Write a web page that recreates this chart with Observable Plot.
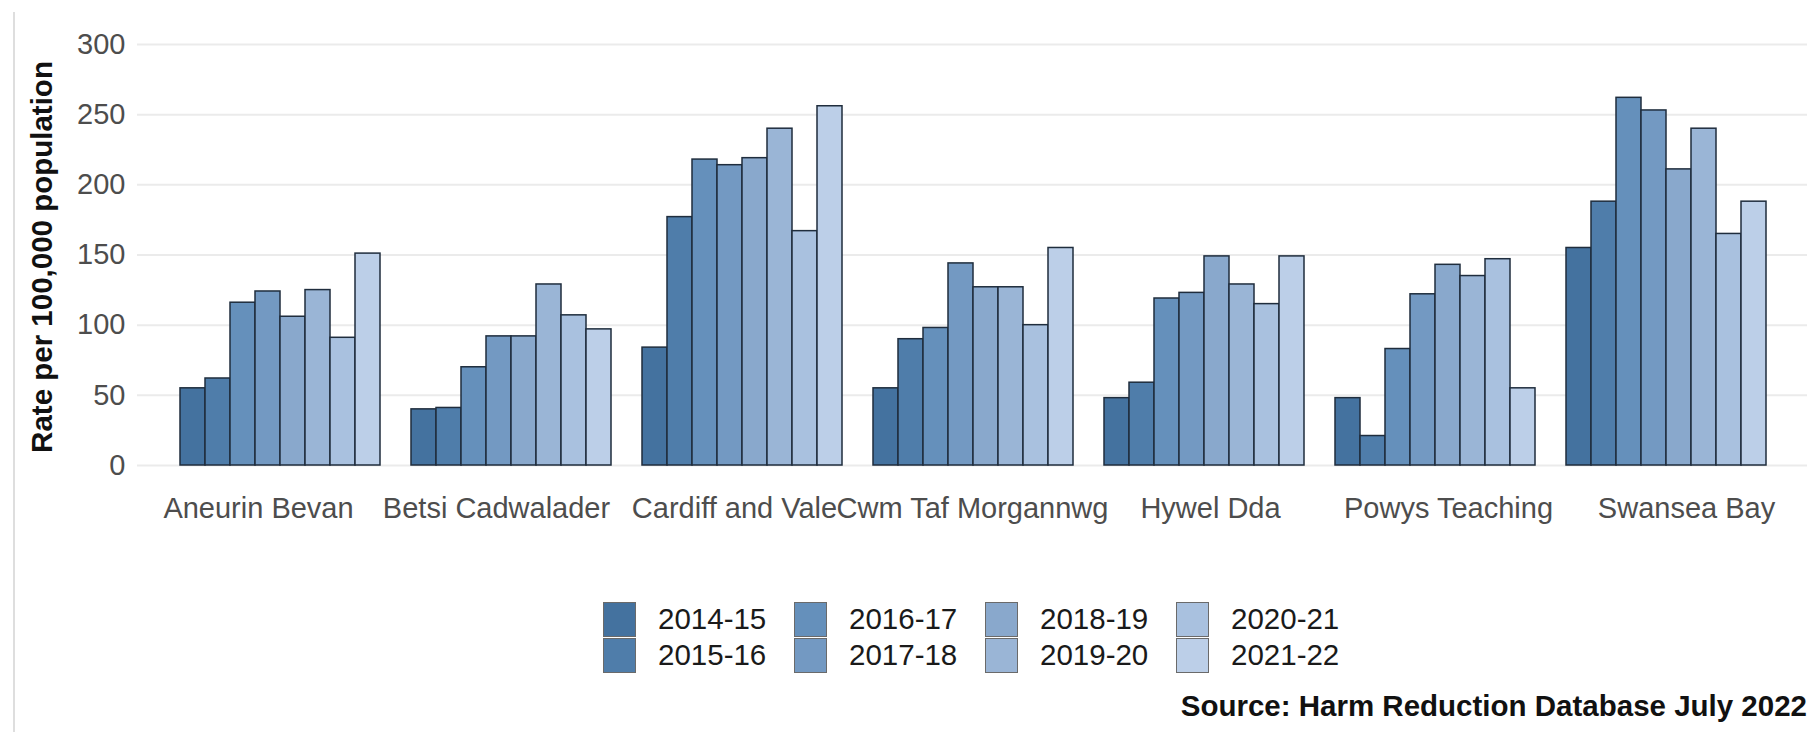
<!DOCTYPE html>
<html>
<head>
<meta charset="utf-8">
<script src="https://cdn.jsdelivr.net/npm/d3@7"></script>
<script src="https://cdn.jsdelivr.net/npm/@observablehq/plot@0.6"></script>
<style>
  html, body { margin: 0; padding: 0; background: #fff; }
  body { width: 1814px; height: 732px; overflow: hidden; position: relative;
         font-family: "Liberation Sans", Arial, sans-serif; }
  #edge { position: absolute; left: 13px; top: 12px; bottom: 0; width: 2px; background: #dedede; }
  #chart { position: relative; width: 1814px; height: 601px; }
  #chart svg { position: absolute; left: 0; top: 0; }
  #legend { display: grid; grid-template-rows: 36px 36px; grid-auto-flow: column;
            grid-auto-columns: 191px; margin-left: 603px; }
  .item { display: flex; align-items: center; }
  .sw { width: 33px; height: 35px; box-sizing: border-box; border: 1.5px solid #6a6a6a; margin-right: 22px; }
  .lab { font-size: 29.5px; line-height: 36px; color: #1a1a1a; }
  #caption { margin-top: 16px; text-align: right; padding-right: 7px; font-weight: bold;
             font-size: 29.5px; line-height: 34px; color: #111; }
</style>
</head>
<body>
<div id="edge"></div>
<div id="chart"></div>
<div id="legend"></div>
<div id="caption"></div>
<script>
const boards = ["Aneurin Bevan", "Betsi Cadwalader", "Cardiff and Vale", "Cwm Taf Morgannwg", "Hywel Dda", "Powys Teaching", "Swansea Bay"];
const years = ["2014-15", "2015-16", "2016-17", "2017-18", "2018-19", "2019-20", "2020-21", "2021-22"];
const colors = ["#44729f", "#4f7daa", "#6590bb", "#7399c2", "#89a8cc", "#9ab5d6", "#a9c1df", "#bccfe8"];
const yTicks = [0, 50, 100, 150, 200, 250, 300];

const aneurinBevan    = [55, 62, 116, 124, 106, 125, 91, 151];
const betsiCadwalader = [40, 41, 70, 92, 92, 129, 107, 97];
const cardiffAndVale  = [84, 177, 218, 214, 219, 240, 167, 256];
const cwmTafMorgannwg = [55, 90, 98, 144, 127, 127, 100, 155];
const hywelDda        = [48, 59, 119, 123, 149, 129, 115, 149];
const powysTeaching   = [48, 21, 83, 122, 143, 135, 147, 55];
const swanseaBay      = [155, 188, 262, 253, 211, 240, 165, 188];

const yTitle = "Rate per 100,000 population";
const captionText = "Source: Harm Reduction Database July 2022";

const series = [aneurinBevan, betsiCadwalader, cardiffAndVale, cwmTafMorgannwg, hywelDda, powysTeaching, swanseaBay];
const data = boards.flatMap((b, i) => years.map((yr, j) => ({board: b, year: yr, value: series[i][j]})));

const font = '"Liberation Sans", Arial, sans-serif';
const common = {
  width: 1814, height: 560,
  marginLeft: 137, marginRight: 7, marginTop: 44, marginBottom: 95
};

const base = Plot.plot({
  ...common,
  style: {fontFamily: font, fontSize: "29px", background: "transparent", color: "#4d4d4d"},
  x: {domain: boards, paddingInner: 0, paddingOuter: 0.1, label: null},
  y: {domain: [0, 300], label: null},
  marks: [
    Plot.gridY(yTicks, {stroke: "#ebebeb", strokeOpacity: 1, strokeWidth: 2}),
    Plot.axisY(yTicks, {tickSize: 0, tickPadding: 12, fontSize: 29, fill: "#4d4d4d", label: null}),
    Plot.axisX({tickSize: 0, tickPadding: 32, fontSize: 29, fill: "#4d4d4d", label: null}),
    Plot.text([yTitle], {frameAnchor: "left", textAnchor: "middle", rotate: -90, dx: -95, dy: 2,
                         fontWeight: "bold", fontSize: 29.5, fill: "#111"})
  ]
});

const bars = Plot.plot({
  ...common,
  style: {fontFamily: font, background: "transparent"},
  fx: {domain: boards, paddingInner: 0, paddingOuter: 0.1, axis: null, label: null},
  x: {domain: years, paddingInner: 0, paddingOuter: 0.4444, axis: null, label: null},
  y: {domain: [0, 300], axis: null, label: null},
  color: {domain: years, range: colors},
  marks: [
    Plot.barY(data, {fx: "board", x: "year", y: "value", fill: "year", stroke: "#1f2d3d", strokeWidth: 1.5})
  ]
});

const chart = document.getElementById("chart");
chart.appendChild(base);
chart.appendChild(bars);

const legend = document.getElementById("legend");
years.forEach((yr, i) => {
  const item = document.createElement("div");
  item.className = "item";
  const sw = document.createElement("div");
  sw.className = "sw";
  sw.style.background = colors[i];
  const lab = document.createElement("span");
  lab.className = "lab";
  lab.textContent = yr;
  item.appendChild(sw);
  item.appendChild(lab);
  legend.appendChild(item);
});

document.getElementById("caption").textContent = captionText;
</script>
</body>
</html>
